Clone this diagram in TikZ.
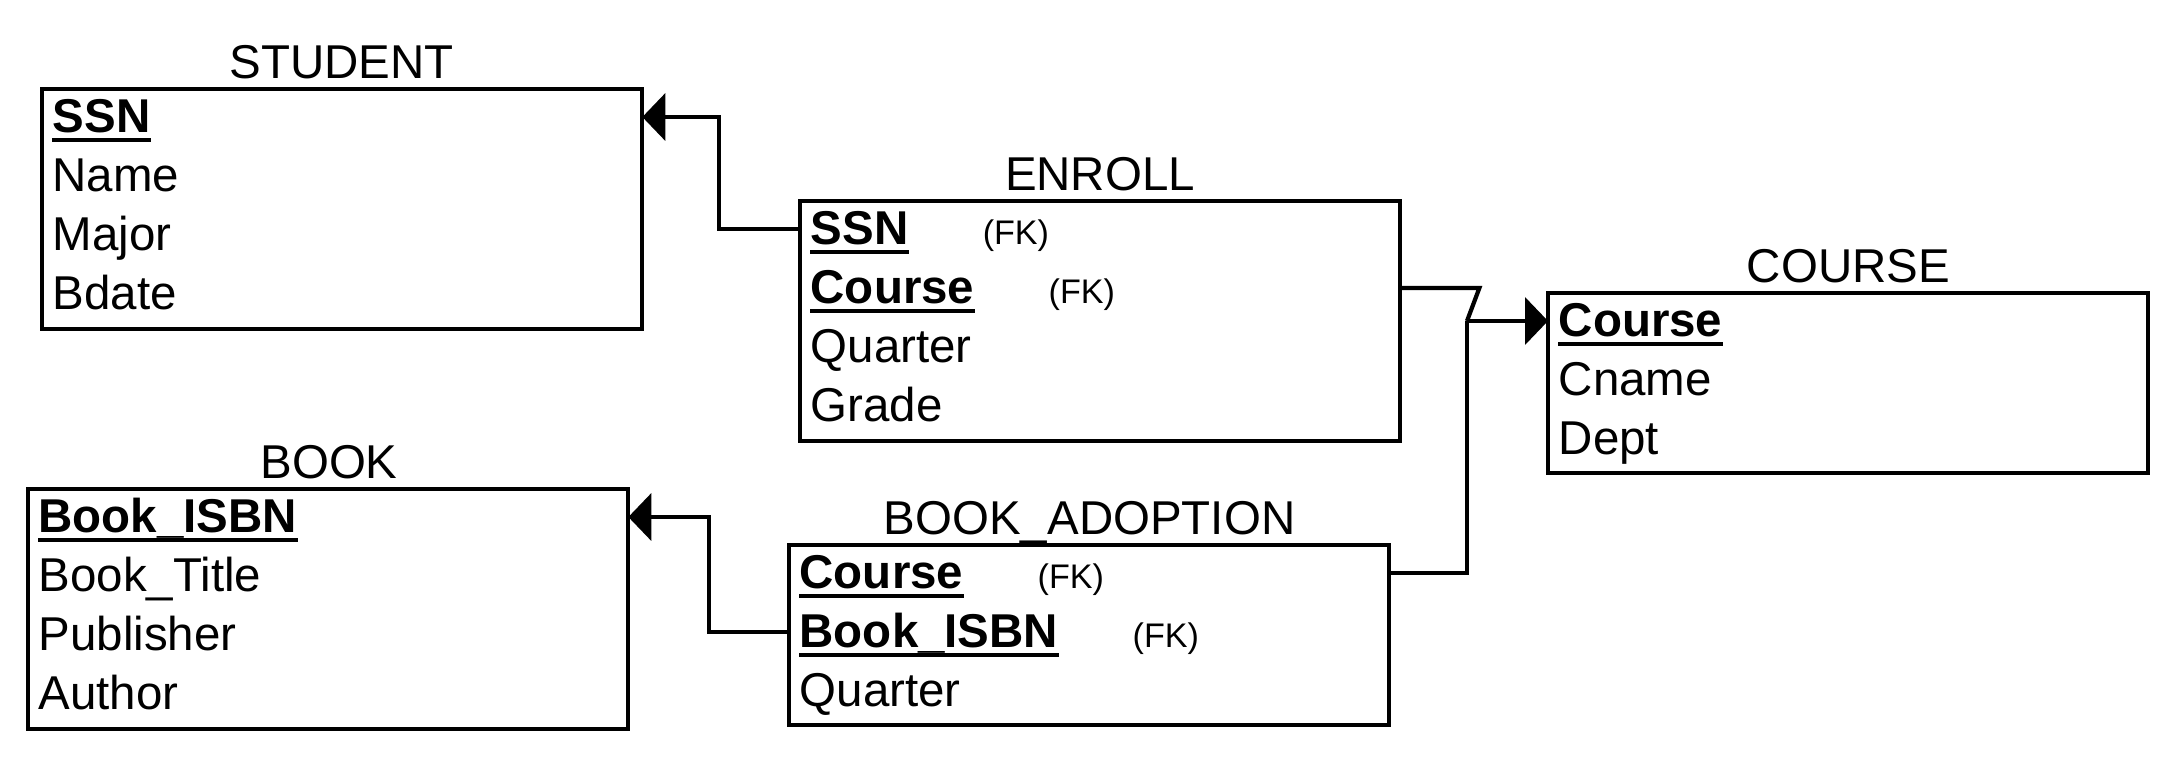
\documentclass[tikz,border=0pt]{standalone}
\usepackage{fontspec}
\setmainfont{Liberation Sans}
\usetikzlibrary{arrows.meta}

\begin{document}
\begin{tikzpicture}[x=0.01cm, y=-0.01cm,
    ent/.style={draw, line width=1.2pt, inner sep=0pt, outer sep=0pt, minimum width=6cm, anchor=north west},
    ttl/.style={anchor=base, inner sep=0pt, font=\fontsize{13.5}{16}\selectfont},
    att/.style={anchor=base west, inner sep=0pt, text height=0.34cm, text depth=0.04cm, font=\fontsize{13.5}{16}\selectfont},
    key/.style={att, font=\fontsize{13.5}{16}\selectfont\bfseries},
    fk/.style={anchor=base west, inner sep=0pt, font=\fontsize{9.7}{12}\selectfont},
    uline/.style={line width=1pt},
    link/.style={line width=1.2pt},
    fkline/.style={link, -{Triangle[length=0.23cm, width=0.47cm]}}]
  \useasboundingbox (0,0) rectangle (2176,756);

  % STUDENT
  \node[ent, minimum height=2.4cm] (student) at (42,89) {};
  \node[ttl] (studentT) at (341.5,78) {STUDENT};
  \node[key] (sssn) at (52,132) {SSN};
  \node[att] (sname) at (52,191) {Name};
  \node[att] (smajor) at (52,250) {Major};
  \node[att] (sbdate) at (52,309) {Bdate};

  % ENROLL
  \node[ent, minimum height=2.4cm] (enroll) at (800,201) {};
  \node[ttl] (enrollT) at (1100,190) {ENROLL};
  \node[key] (essn) at (810,244) {SSN};
  \node[fk] (essnfk) at ([xshift=0.73cm]essn.base east) {(FK)};
  \node[key] (ecourse) at (810,303) {Course};
  \node[fk] (ecoursefk) at ([xshift=0.73cm]ecourse.base east) {(FK)};
  \node[att] (equarter) at (810,362) {Quarter};
  \node[att] (egrade) at (810,421) {Grade};

  % COURSE
  \node[ent, minimum height=1.8cm] (course) at (1548,293) {};
  \node[ttl] (courseT) at (1848.5,282) {COURSE};
  \node[key] (ccourse) at (1558,336) {Course};
  \node[att] (ccname) at (1558,395) {Cname};
  \node[att] (cdept) at (1558,454) {Dept};

  % BOOK
  \node[ent, minimum height=2.4cm] (book) at (28,489) {};
  \node[ttl] (bookT) at (329,478) {BOOK};
  \node[key] (bisbn) at (38,532) {Book\_ISBN};
  \node[att] (btitle) at (38,591) {Book\_Title};
  \node[att] (bpub) at (38,650) {Publisher};
  \node[att] (bauthor) at (38,709) {Author};

  % BOOK_ADOPTION
  \node[ent, minimum height=1.8cm] (adopt) at (789,545) {};
  \node[ttl] (adoptT) at (1089.5,534) {BOOK\_ADOPTION};
  \node[key] (acourse) at (799,588) {Course};
  \node[fk] (acoursefk) at ([xshift=0.73cm]acourse.base east) {(FK)};
  \node[key] (aisbn) at (799,647) {Book\_ISBN};
  \node[fk] (aisbnfk) at ([xshift=0.73cm]aisbn.base east) {(FK)};
  \node[att] (aquarter) at (799,706) {Quarter};

  % key underlines
  \foreach \k in {sssn,essn,ecourse,ccourse,bisbn,acourse,aisbn}
    \draw[uline] ([yshift=-0.08cm]\k.base west) -- ([yshift=-0.08cm]\k.base east);

  % foreign keys
  \path (ccourse -| course.west) ++(-81,0) coordinate (join);
  \draw[fkline] (essn -| enroll.west) -- ++(-81,0) |- (sssn -| student.east);
  \draw[link] (ecourse -| enroll.east) -- ++(79,0) -- (join);
  \draw[fkline] (join) -- (ccourse -| course.west);
  \draw[link] (acourse -| adopt.east) -| (join);
  \draw[fkline] (aisbn -| adopt.west) -- ++(-80,0) |- (bisbn -| book.east);
\end{tikzpicture}
\end{document}
